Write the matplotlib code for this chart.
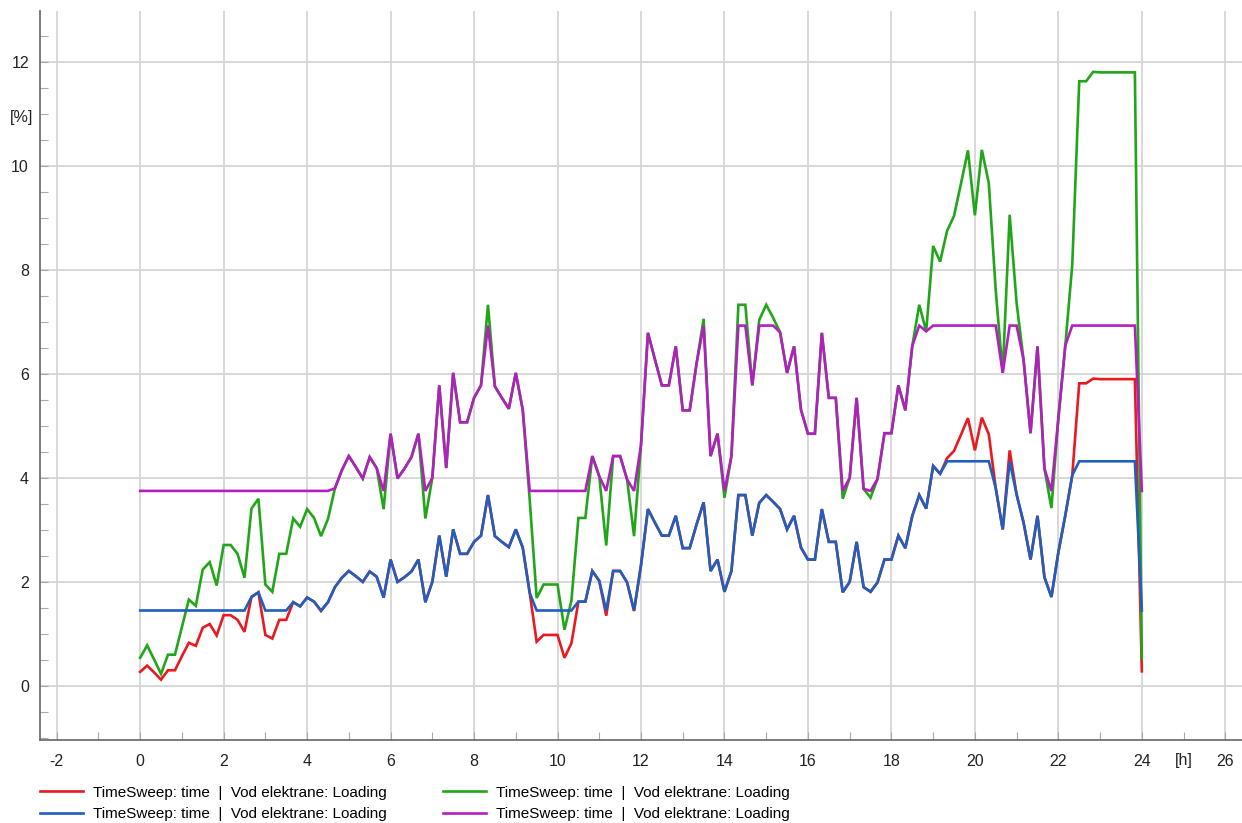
import matplotlib
matplotlib.use('Agg')
import matplotlib.pyplot as plt
import numpy as np
from matplotlib.ticker import MultipleLocator
from matplotlib.transforms import blended_transform_factory


# One day sampled every 10 minutes
HOURS = np.linspace(0, 24, 145)

LOADING_RED = [
    0.27, 0.39, 0.26, 0.12, 0.30, 0.30, 0.57, 0.83, 0.77, 1.12, 1.19, 0.97,
    1.36, 1.36, 1.27, 1.04, 1.71, 1.80, 0.98, 0.91, 1.27, 1.27, 1.61, 1.53,
    1.70, 1.62, 1.44, 1.61, 1.90, 2.08, 2.21, 2.11, 2.00, 2.20, 2.10, 1.70,
    2.43, 2.00, 2.09, 2.20, 2.43, 1.61, 2.00, 2.89, 2.10, 3.01, 2.54, 2.54,
    2.77, 2.89, 3.67, 2.88, 2.77, 2.67, 3.01, 2.66, 1.79, 0.85, 0.98, 0.98,
    0.98, 0.54, 0.82, 1.62, 1.62, 2.21, 2.02, 1.35, 2.21, 2.21, 1.99, 1.44,
    2.32, 3.40, 3.14, 2.89, 2.89, 3.27, 2.65, 2.65, 3.11, 3.53, 2.21, 2.43,
    1.81, 2.21, 3.67, 3.67, 2.89, 3.52, 3.67, 3.54, 3.40, 3.01, 3.27, 2.66,
    2.43, 2.43, 3.40, 2.77, 2.77, 1.80, 2.00, 2.77, 1.90, 1.81, 1.99, 2.43,
    2.43, 2.89, 2.65, 3.27, 3.67, 3.41, 4.23, 4.08, 4.38, 4.52, 4.83, 5.15,
    4.53, 5.16, 4.84, 3.80, 3.01, 4.53, 3.68, 3.14, 2.43, 3.27, 2.09, 1.71,
    2.57, 3.28, 4.05, 5.82, 5.82, 5.91, 5.90, 5.90, 5.90, 5.90, 5.90, 5.90,
    0.28,
]

LOADING_BLUE = [
    1.45, 1.45, 1.45, 1.45, 1.45, 1.45, 1.45, 1.45, 1.45, 1.45, 1.45, 1.45,
    1.45, 1.45, 1.45, 1.45, 1.71, 1.80, 1.45, 1.45, 1.45, 1.45, 1.61, 1.53,
    1.70, 1.62, 1.45, 1.61, 1.90, 2.08, 2.21, 2.11, 2.00, 2.20, 2.10, 1.70,
    2.43, 2.00, 2.09, 2.20, 2.43, 1.61, 2.00, 2.89, 2.10, 3.01, 2.54, 2.54,
    2.77, 2.89, 3.67, 2.88, 2.77, 2.67, 3.01, 2.66, 1.79, 1.45, 1.45, 1.45,
    1.45, 1.45, 1.45, 1.62, 1.62, 2.21, 2.02, 1.45, 2.21, 2.21, 1.99, 1.45,
    2.32, 3.40, 3.14, 2.89, 2.89, 3.27, 2.65, 2.65, 3.11, 3.53, 2.21, 2.43,
    1.81, 2.21, 3.67, 3.67, 2.89, 3.52, 3.67, 3.54, 3.40, 3.01, 3.27, 2.66,
    2.43, 2.43, 3.40, 2.77, 2.77, 1.80, 2.00, 2.77, 1.90, 1.81, 1.99, 2.43,
    2.43, 2.89, 2.65, 3.27, 3.67, 3.41, 4.23, 4.08, 4.32, 4.32, 4.32, 4.32,
    4.32, 4.32, 4.32, 3.80, 3.01, 4.32, 3.68, 3.14, 2.43, 3.27, 2.09, 1.71,
    2.57, 3.28, 4.05, 4.32, 4.32, 4.32, 4.32, 4.32, 4.32, 4.32, 4.32, 4.32,
    1.45,
]

LOADING_GREEN = [
    0.54, 0.78, 0.51, 0.23, 0.60, 0.60, 1.13, 1.66, 1.54, 2.24, 2.38, 1.93,
    2.71, 2.71, 2.54, 2.08, 3.41, 3.60, 1.95, 1.81, 2.54, 2.54, 3.22, 3.06,
    3.40, 3.23, 2.88, 3.21, 3.80, 4.15, 4.42, 4.21, 3.99, 4.40, 4.19, 3.40,
    4.85, 3.99, 4.18, 4.40, 4.85, 3.22, 4.00, 5.78, 4.19, 6.02, 5.07, 5.07,
    5.54, 5.78, 7.33, 5.76, 5.54, 5.33, 6.02, 5.31, 3.58, 1.69, 1.95, 1.95,
    1.95, 1.08, 1.64, 3.23, 3.23, 4.42, 4.03, 2.70, 4.42, 4.42, 3.97, 2.88,
    4.63, 6.79, 6.28, 5.78, 5.78, 6.53, 5.30, 5.30, 6.21, 7.06, 4.42, 4.85,
    3.62, 4.42, 7.33, 7.33, 5.78, 7.04, 7.33, 7.08, 6.80, 6.02, 6.53, 5.31,
    4.85, 4.85, 6.79, 5.54, 5.54, 3.60, 4.00, 5.54, 3.79, 3.62, 3.98, 4.86,
    4.86, 5.78, 5.30, 6.54, 7.33, 6.82, 8.46, 8.16, 8.75, 9.04, 9.66, 10.30,
    9.05, 10.31, 9.67, 7.60, 6.02, 9.06, 7.36, 6.27, 4.86, 6.53, 4.18, 3.42,
    5.14, 6.55, 8.10, 11.63, 11.63, 11.81, 11.80, 11.80, 11.80, 11.80, 11.80, 11.80,
    0.53,
]

LOADING_MAGENTA = [
    3.75, 3.75, 3.75, 3.75, 3.75, 3.75, 3.75, 3.75, 3.75, 3.75, 3.75, 3.75,
    3.75, 3.75, 3.75, 3.75, 3.75, 3.75, 3.75, 3.75, 3.75, 3.75, 3.75, 3.75,
    3.75, 3.75, 3.75, 3.75, 3.80, 4.15, 4.42, 4.21, 3.99, 4.40, 4.19, 3.75,
    4.85, 3.99, 4.18, 4.40, 4.85, 3.75, 4.00, 5.78, 4.19, 6.02, 5.07, 5.07,
    5.54, 5.78, 6.93, 5.76, 5.54, 5.33, 6.02, 5.31, 3.75, 3.75, 3.75, 3.75,
    3.75, 3.75, 3.75, 3.75, 3.75, 4.42, 4.03, 3.75, 4.42, 4.42, 3.97, 3.75,
    4.63, 6.79, 6.28, 5.78, 5.78, 6.53, 5.30, 5.30, 6.21, 6.93, 4.42, 4.85,
    3.75, 4.42, 6.93, 6.93, 5.78, 6.93, 6.93, 6.93, 6.80, 6.02, 6.53, 5.31,
    4.85, 4.85, 6.79, 5.54, 5.54, 3.75, 4.00, 5.54, 3.79, 3.75, 3.98, 4.86,
    4.86, 5.78, 5.30, 6.54, 6.93, 6.82, 6.93, 6.93, 6.93, 6.93, 6.93, 6.93,
    6.93, 6.93, 6.93, 6.93, 6.02, 6.93, 6.93, 6.27, 4.86, 6.53, 4.18, 3.75,
    5.14, 6.55, 6.93, 6.93, 6.93, 6.93, 6.93, 6.93, 6.93, 6.93, 6.93, 6.93,
    3.75,
]

SERIES_LABEL = 'TimeSweep: time  |  Vod elektrane: Loading'
COLORS = {
    'red': '#e8191f',
    'blue': '#1f5fbf',
    'green': '#22a619',
    'magenta': '#b31fbf',
}
FONT_SIZE = 11
TICK_FONT_SIZE = 11.5


def main():
    plt.rcParams['font.family'] = ['Liberation Sans', 'DejaVu Sans']
    plt.rcParams['font.size'] = FONT_SIZE
    plt.rcParams['axes.unicode_minus'] = False

    fig = plt.figure(figsize=(12.42, 8.23), dpi=100)
    ax = fig.add_axes([0.0322, 0.1009, 0.9678, 0.8857])

    series = [
        (LOADING_RED, COLORS['red'], 3),
        (LOADING_BLUE, COLORS['blue'], 4),
        (LOADING_GREEN, COLORS['green'], 3.5),
        (LOADING_MAGENTA, COLORS['magenta'], 4.5),
    ]
    handles = []
    for values, color, z in series:
        # blue sits over red, magenta over green where they coincide
        line, = ax.plot(HOURS, values, color=color, lw=1.9, label=SERIES_LABEL,
                        solid_joinstyle='miter', zorder=z)
        handles.append(line)

    ax.set_xlim(-2.4, 26.4)
    ax.set_ylim(-1.04, 12.98)
    ax.xaxis.set_major_locator(MultipleLocator(2))
    ax.xaxis.set_minor_locator(MultipleLocator(1))
    ax.yaxis.set_major_locator(MultipleLocator(2))
    ax.yaxis.set_minor_locator(MultipleLocator(0.5))

    ax.grid(True, which='major', color='#d6d6d6', lw=1.3, zorder=0)
    ax.set_axisbelow(True)

    for side in ('top', 'right'):
        ax.spines[side].set_visible(False)
    for side in ('left', 'bottom'):
        ax.spines[side].set_color('#666666')
        ax.spines[side].set_linewidth(1.2)

    ax.tick_params(which='both', direction='in', color='#aaaaaa', width=0.8,
                   length=6, labelsize=TICK_FONT_SIZE, labelcolor='#222222')
    ax.tick_params(axis='x', pad=10)
    ax.tick_params(axis='y', pad=8)

    # unit labels next to the axes
    ytrans = blended_transform_factory(ax.transAxes, ax.transData)
    ax.text(-0.0155, 10.94, '[%]', transform=ytrans, ha='center', va='center',
            fontsize=TICK_FONT_SIZE, color='#222222')
    xtrans = blended_transform_factory(ax.transData, ax.transAxes)
    ax.text(25, -0.0288, '[h]', transform=xtrans, ha='center', va='center',
            fontsize=TICK_FONT_SIZE, color='#222222')

    fig.legend(handles=handles, loc='upper left', bbox_to_anchor=(0.0325, 0.0455),
               ncol=2, frameon=False, fontsize=FONT_SIZE, handlelength=2.8,
               handletextpad=0.65, columnspacing=3.7, labelspacing=0.5,
               borderaxespad=0, borderpad=0)

    fig.savefig('out.png', dpi=100)
    plt.close(fig)


if __name__ == '__main__':
    main()
